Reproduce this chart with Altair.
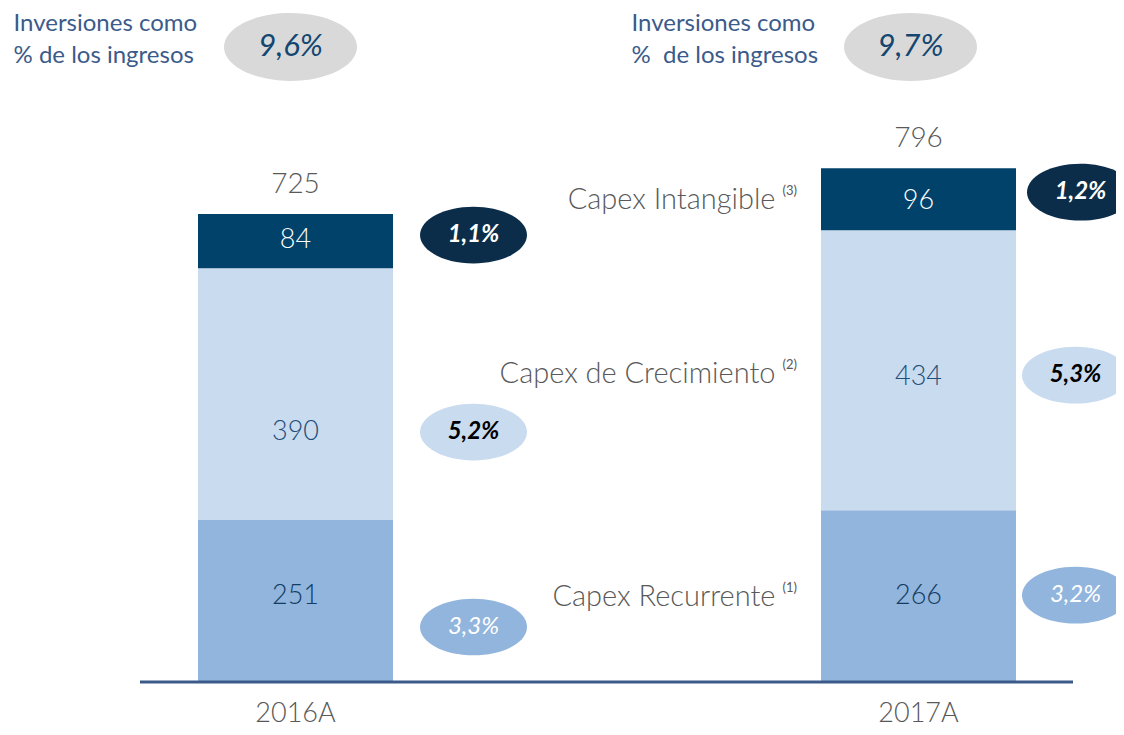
import altair as alt
import pandas as pd

# ---- data ----
years = ["2016A", "2017A"]
segments = ["Capex Recurrente", "Capex de Crecimiento", "Capex Intangible"]
superscripts = ["(1)", "(2)", "(3)"]
recurrente = [251, 266]
crecimiento = [390, 434]
intangible = [84, 96]
totals = [725, 796]
pct_recurrente = ["3,3%", "3,2%"]
pct_crecimiento = ["5,2%", "5,3%"]
pct_intangible = ["1,1%", "1,2%"]
pct_total = ["9,6%", "9,7%"]
header_text = ["Inversiones como\n% de los ingresos", "Inversiones como\n%\u00a0 de los ingresos"]

FONT = "Lato"
seg_values = [recurrente, crecimiento, intangible]
seg_pcts = [pct_recurrente, pct_crecimiento, pct_intangible]
bar_colors = ["#92b5dd", "#c9dbef", "#01426a"]
val_colors = ["#123d63", "#1f4e79", "#ffffff"]
ell_colors = ["#92b5dd", "#c9dbef", "#0b2d4a"]
pct_colors = ["#ffffff", "#000000", "#ffffff"]
pct_weights = ["normal", "bold", "bold"]

rows = []
for i, y in enumerate(years):
    base = 0
    for s, seg in enumerate(segments):
        v = seg_values[s][i]
        rows.append({"idx": i, "year": y, "segment": seg, "value": v,
                     "y0": base, "y1": base + v, "mid": base + v / 2,
                     "pct": seg_pcts[s][i], "sup": superscripts[s]})
        base += v
df = pd.DataFrame(rows)
tot = pd.DataFrame({"idx": [0, 1], "year": years, "total": totals,
                    "pct": pct_total, "header": header_text})

W, H = 1108, 719
PX_X = 623.0
PX_Y = 0.6455
XMIN = -287.5 / PX_X
XMAX = XMIN + W / PX_X
YMAX = 674 / PX_Y
YMIN = YMAX - H / PX_Y

xs = alt.Scale(domain=[XMIN, XMAX], nice=False, zero=False, padding=0)
ys = alt.Scale(domain=[YMIN, YMAX], nice=False, zero=False, padding=0)
ELL = "M-1,0A1,0.53 0 1,1 1,0A1,0.53 0 1,1 -1,0Z"
ELL_H = "M-1,0A1,0.51 0 1,1 1,0A1,0.51 0 1,1 -1,0Z"

layers = []
bars = alt.Chart(df).mark_bar(size=195).encode(
    x=alt.X("idx:Q", scale=xs, axis=None),
    y=alt.Y("y0:Q", scale=ys, axis=None),
    y2="y1:Q",
    color=alt.Color("segment:N", scale=alt.Scale(domain=segments, range=bar_colors), legend=None),
)
layers.append(bars)

axis_line = alt.Chart(tot).mark_rule(color="#3b5a8a", strokeWidth=3).encode(
    x=alt.value(132), x2=alt.value(1065), y=alt.Y("zero:Q", scale=ys, axis=None)
).transform_calculate(zero="0").transform_filter(alt.datum.idx == 0)
layers.append(axis_line)

# per-year, per-segment offsets (pixels) for value labels and percentage ellipses
val_dy = [[-5, 38, -1], [0, 7, 2]]
ell_dy = [[26, 38, -6], [-1, 5, -7]]
ell_dx = [[178, 178, 178], [157, 157, 162]]

for i in range(2):
    for s, seg in enumerate(segments):
        sub = alt.Chart(df).transform_filter(
            (alt.datum.idx == i) & (alt.datum.segment == seg))
        layers.append(sub.mark_text(font=FONT, fontSize=27, fontWeight=300, color=val_colors[s],
                                    dy=val_dy[i][s], baseline="middle").encode(
            x=alt.X("idx:Q", scale=xs, axis=None),
            y=alt.Y("mid:Q", scale=ys, axis=None), text="value:Q"))
        esub = sub.transform_calculate(
            ex=f"datum.idx + {ell_dx[i][s] / PX_X}",
            ey=f"datum.mid - {ell_dy[i][s] / PX_Y}")
        enc = dict(x=alt.X("ex:Q", scale=xs, axis=None), y=alt.Y("ey:Q", scale=ys, axis=None))
        layers.append(esub.mark_point(shape=ELL, size=107 ** 2, filled=True, opacity=1,
                                      strokeWidth=0, color=ell_colors[s]).encode(**enc))
        layers.append(esub.mark_text(font=FONT, fontSize=24, fontStyle="italic",
                                     fontWeight=pct_weights[s], color=pct_colors[s],
                                     baseline="middle").encode(text="pct:N", **enc))

# category labels next to the 2017 bar
cat_dy = [1, 4, 1]
for s, seg in enumerate(segments):
    sub = alt.Chart(df).transform_filter((alt.datum.idx == 1) & (alt.datum.segment == seg))
    enc = dict(x=alt.X("idx:Q", scale=xs, axis=None), y=alt.Y("mid:Q", scale=ys, axis=None))
    layers.append(sub.mark_text(font=FONT, fontSize=29, fontWeight=300, color="#595959",
                                align="right", dx=-143, dy=cat_dy[s],
                                baseline="middle").encode(text="segment:N", **enc))
    layers.append(sub.mark_text(font=FONT, fontSize=13, color="#595959", align="left",
                                dx=-136, dy=cat_dy[s] - 9,
                                baseline="middle").encode(text="sup:N", **enc))

# totals
layers.append(alt.Chart(tot).mark_text(font=FONT, fontSize=28, fontWeight=300, color="#595959",
                                       dy=-29, baseline="middle").encode(
    x=alt.X("idx:Q", scale=xs, axis=None), y=alt.Y("total:Q", scale=ys, axis=None),
    text="total:Q"))

# year labels
layers.append(alt.Chart(tot).mark_text(font=FONT, fontSize=27, fontWeight=300, color="#595959",
                                       baseline="middle").encode(
    x=alt.X("idx:Q", scale=xs, axis=None), y=alt.value(706), text="year:N"))

# headers
for i in range(2):
    hx = [-5, -8][i]
    sub = alt.Chart(tot).transform_filter(alt.datum.idx == i).transform_calculate(
        hx=f"datum.idx + {hx / PX_X}")
    henc = dict(x=alt.X("hx:Q", scale=xs, axis=None), y=alt.value(39))
    layers.append(sub.mark_point(shape=ELL_H, size=133 ** 2, filled=True, opacity=1,
                                 strokeWidth=0, color="#d9d9d9").encode(**henc))
    layers.append(sub.mark_text(font=FONT, fontSize=31, fontStyle="italic", color="#134670",
                                baseline="middle").encode(text="pct:N", **henc))
    layers.append(sub.mark_text(font=FONT, fontSize=24, color="#3b5b8b", align="left",
                                baseline="middle", lineBreak="\n", lineHeight=32,
                                dx=[-282, -287][i]).encode(
        x=alt.X("idx:Q", scale=xs, axis=None), y=alt.value(16), text="header:N"))

chart = alt.layer(*layers).properties(
    width=W, height=H, autosize=alt.AutoSizeParams(type="none"), padding=0
).configure_view(stroke=None)

chart.save("out.html", embed_options={"renderer": "svg", "actions": False})
